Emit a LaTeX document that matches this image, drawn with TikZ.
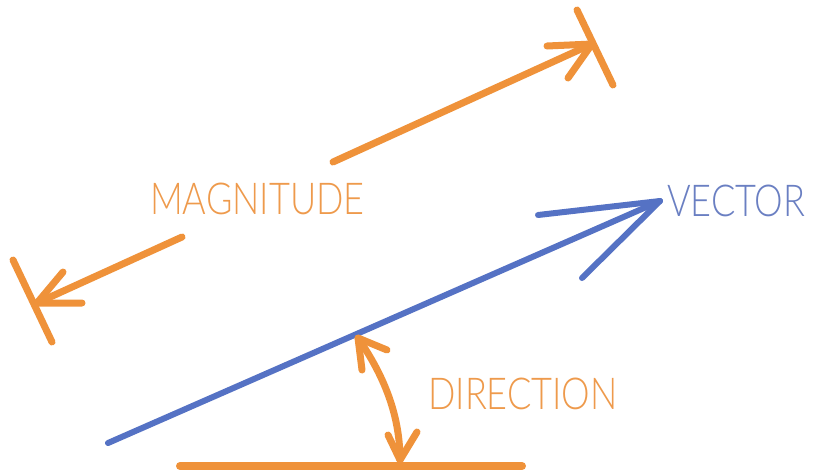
\documentclass[tikz,border=0pt]{standalone}
\usepackage{fontspec}
\setmainfont{Lato Light}
\definecolor{org}{HTML}{EF923A}
\definecolor{blu}{HTML}{5572C4}
\definecolor{orgtxt}{HTML}{EE9A4C}
\definecolor{blutxt}{HTML}{6A7FC2}
\begin{document}
\begin{tikzpicture}[x=1pt,y=-1pt,
  oline/.style={draw=org,line width=7pt,line cap=round,line join=round},
  bline/.style={draw=blu,line width=6pt,line cap=round,line join=round},
  lbl/.style={font=\fontsize{44}{44}\selectfont,inner sep=0pt,anchor=base west,xscale=0.82}]
\useasboundingbox (0,0) rectangle (813,475);
% magnitude upper arrow
\coordinate (m1s) at (333,162);
\coordinate (m1t) at (592,44);
\draw[oline] (m1s) -- (m1t);
\draw[oline] (547,46) -- (m1t) -- (568,78);
\draw[oline] (577,10) -- (613,85);
% magnitude lower arrow
\coordinate (m2s) at (182,237);
\coordinate (m2t) at (37,303);
\draw[oline] (m2s) -- (m2t);
\draw[oline] (63,272) -- (m2t) -- (82,303);
\draw[oline] (13,260) -- (52,342);
% vector
\coordinate (vs) at (108,443);
\coordinate (vt) at (660,201);
\draw[bline] (vs) -- (vt);
\draw[bline] (538,215) -- (vt) -- (582,278);
% direction
\coordinate (d1) at (358,338);
\coordinate (d2) at (400,460);
\draw[oline] (d1) .. controls (380,370) and (400,410) .. (d2);
\draw[oline] (362,370) -- (d1) -- (387,350);
\draw[oline] (388,435) -- (d2) -- (417,432);
\draw[draw=org,line width=8pt,line cap=round] (180,466) -- (522,466);
% labels
\node[lbl,text=orgtxt] (mag) at (150,214) {MAGNITUDE};
\node[lbl,text=blutxt] (vec) at (667,216) {VECTOR};
\node[lbl,text=orgtxt] (dir) at (428,409) {DIRECTION};
\end{tikzpicture}
\end{document}
